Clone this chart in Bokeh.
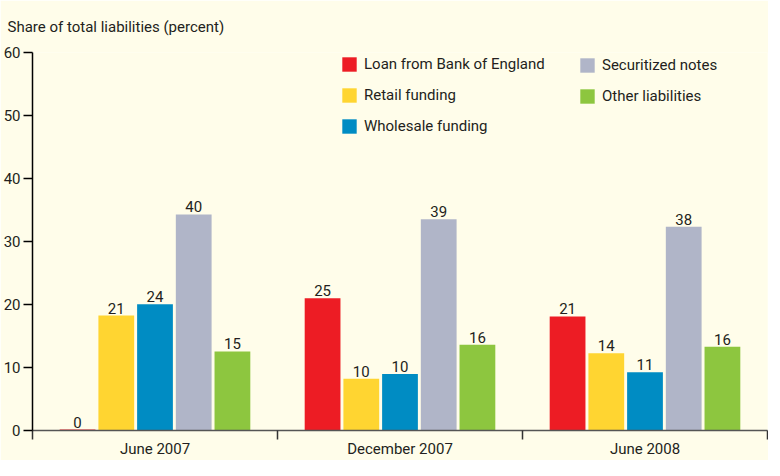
from bokeh.plotting import figure
from bokeh.models import (Range1d, FixedTicker, ColumnDataSource, Legend, LegendItem)
from bokeh.transform import dodge
from bokeh.core.properties import value
from bokeh.embed import file_html
from bokeh.resources import INLINE

# ---- data ----
dates = ["June 2007", "December 2007", "June 2008"]
series = ["Loan from Bank of England", "Retail funding", "Wholesale funding",
          "Securitized notes", "Other liabilities"]
colors = ["#ED1C24", "#FFD531", "#008CC3", "#B0B5C8", "#8DC63F"]

loan = [0.15, 21.0, 18.1]
retail = [18.25, 8.2, 12.25]
wholesale = [20.05, 8.95, 9.25]
securitized = [34.3, 33.55, 32.35]
other = [12.55, 13.6, 13.3]

loan_lbl = ["0", "25", "21"]
retail_lbl = ["21", "10", "14"]
wholesale_lbl = ["24", "10", "11"]
securitized_lbl = ["40", "39", "38"]
other_lbl = ["15", "16", "16"]

y_ticks = [0, 10, 20, 30, 40, 50, 60]

heights = [loan, retail, wholesale, securitized, other]
labels = [loan_lbl, retail_lbl, wholesale_lbl, securitized_lbl, other_lbl]

FONT = "Roboto"
BG = "#FFFDEA"
TXT = "#231F20"

p = figure(width=768, height=460, output_backend="svg", toolbar_location=None,
           x_range=Range1d(0, 3), y_range=Range1d(0, 60),
           min_border_left=27, min_border_right=1, min_border_top=52,
           min_border_bottom=0)
p.background_fill_color = BG
p.border_fill_color = BG
p.outline_line_color = None
p.xgrid.visible = False
p.ygrid.visible = False

p.title.text = "Share of total liabilities (percent)"
p.title.text_font = FONT
p.title.text_font_size = "15px"
p.title.text_font_style = "normal"
p.title.text_color = TXT
p.title.align = "left"
p.title.vertical_align = "top"
p.title.offset = -25
p.title.standoff = 30

centers = [i + 0.5 for i in range(len(dates))]
pitch = 0.158
bw = 0.146

renderers = []
for j, (name, hs, lb, c) in enumerate(zip(series, heights, labels, colors)):
    src = ColumnDataSource(dict(x=centers, top=hs, lbl=lb))
    off = (j - 2) * pitch
    r = p.vbar(x=dodge("x", off, range=p.x_range), top="top", width=bw, bottom=0,
               source=src, fill_color=c, line_color=None)
    renderers.append(r)
    p.text(x=dodge("x", off, range=p.x_range), y="top", text="lbl", source=src,
           text_align="center", text_baseline="bottom", y_offset=-2,
           text_font=value(FONT), text_font_size="15px", text_color=TXT)

# y axis
ya = p.yaxis[0]
ya.ticker = FixedTicker(ticks=y_ticks)
ya.axis_line_color = "#000000"
ya.axis_line_width = 1.5
ya.major_tick_line_color = "#000000"
ya.major_tick_line_width = 1.5
ya.major_tick_out = 9
ya.major_tick_in = 0
ya.minor_tick_line_color = None
ya.major_label_text_font = FONT
ya.major_label_text_font_size = "15px"
ya.major_label_text_color = TXT
ya.major_label_standoff = 3

# x axis
xa = p.xaxis[0]
xa.ticker = FixedTicker(ticks=centers, minor_ticks=[0, 1, 2, 3])
xa.major_label_overrides = {c: d for c, d in zip(centers, dates)}
xa.axis_line_color = "#555555"
xa.axis_line_width = 1.5
xa.major_tick_line_color = None
xa.major_tick_out = 9
xa.major_tick_in = 0
xa.minor_tick_line_color = "#333333"
xa.minor_tick_line_width = 1.5
xa.minor_tick_out = 9
xa.minor_tick_in = 0
xa.major_label_text_font = FONT
xa.major_label_text_font_size = "15px"
xa.major_label_text_color = TXT
xa.major_label_standoff = 0

def make_legend(items, loc):
    lg = Legend(items=items, location=loc, orientation="vertical",
                glyph_width=18, glyph_height=18, label_height=18,
                label_standoff=6, spacing=13, padding=0, margin=0,
                border_line_color=None, background_fill_alpha=0,
                label_text_font=FONT, label_text_font_size="15px",
                label_text_color=TXT, label_text_baseline="middle")
    return lg

lg1 = make_legend([LegendItem(label=series[k], renderers=[renderers[k]]) for k in range(3)], (308, 295))
lg2 = make_legend([LegendItem(label=series[k], renderers=[renderers[k]]) for k in range(3, 5)], (546, 325))
p.add_layout(lg1, "center")
p.add_layout(lg2, "center")

open("out.html", "w").write(file_html(p, INLINE))
